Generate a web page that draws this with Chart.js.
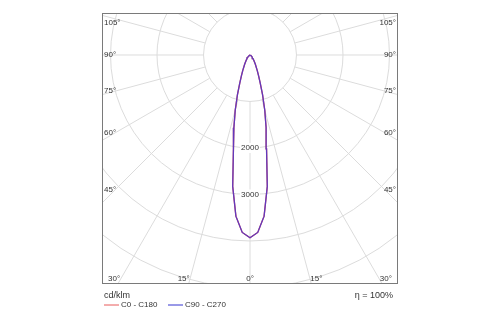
<!DOCTYPE html>
<html>
<head>
<meta charset="utf-8">
<script src="https://cdn.jsdelivr.net/npm/chart.js@4.4.0/dist/chart.umd.min.js"></script>
<style>
  html, body { margin: 0; padding: 0; background: #fff; }
  #wrap { width: 500px; height: 325px; }
</style>
</head>
<body>
<div id="wrap"><canvas id="ldc" width="500" height="325"></canvas></div>
<script>
// Intensity distribution (cd/klm) against angle from nadir, symmetric on both halves
const gammaAngles = [0, 2.5, 5, 7.5, 10, 12.5, 15, 17.5, 20, 22.5, 25, 30, 35, 40, 45, 50, 60, 70, 80, 90];
const c0c180 = [3930, 3820, 3480, 2850, 2050, 1600, 1225, 900, 640, 480, 370, 230, 150, 100, 70, 45, 20, 8, 2, 0];
const c90c270 = [3930, 3820, 3480, 2850, 2050, 1600, 1225, 900, 640, 480, 370, 230, 150, 100, 70, 45, 20, 8, 2, 0];
const seriesNames = ['C0 - C180', 'C90 - C270'];

const ringValues = [1000, 2000, 3000, 4000, 5000, 6000];
const ringLabels = ['2000', '3000'];
const sideLabels = ['105°', '90°', '75°', '60°', '45°'];
const sideAngles = [105, 90, 75, 60, 45];
const bottomLabels = ['30°', '15°', '0°', '15°', '30°'];
const bottomAngles = [-30, -15, 0, 15, 30];
const unitLabel = 'cd/klm';
const efficiencyLabel = 'η = 100%';

// turn (angle, intensity) into x/y in cd/klm, going round from one side to the other
function toPoints(values) {
  const pts = [];
  for (let i = gammaAngles.length - 1; i >= 0; i--) {
    const a = -gammaAngles[i] * Math.PI / 180;
    pts.push({ x: values[i] * Math.sin(a), y: -values[i] * Math.cos(a) });
  }
  for (let i = 1; i < gammaAngles.length; i++) {
    const a = gammaAngles[i] * Math.PI / 180;
    pts.push({ x: values[i] * Math.sin(a), y: -values[i] * Math.cos(a) });
  }
  return pts;
}

const FONT = '"Liberation Sans", Arial, sans-serif';

const polarGrid = {
  id: 'polarGrid',
  beforeDatasetsDraw(chart) {
    const { ctx, chartArea: ca, scales: { x, y } } = chart;
    const cx = x.getPixelForValue(0);
    const cy = y.getPixelForValue(0);
    const k = (x.getPixelForValue(1000) - cx) / 1000;

    ctx.save();
    ctx.fillStyle = '#fff';
    ctx.fillRect(ca.left, ca.top, ca.right - ca.left, ca.bottom - ca.top);
    ctx.beginPath();
    ctx.rect(ca.left, ca.top, ca.right - ca.left, ca.bottom - ca.top);
    ctx.clip();

    ctx.strokeStyle = '#dcdcdc';
    ctx.lineWidth = 1;
    ringValues.forEach(v => {
      ctx.beginPath();
      ctx.arc(cx, cy, v * k, 0, Math.PI * 2);
      ctx.stroke();
    });
    const r0 = ringValues[0] * k;
    for (let a = 0; a < 360; a += 15) {
      const t = a * Math.PI / 180;
      ctx.beginPath();
      ctx.moveTo(cx + r0 * Math.sin(t), cy + r0 * Math.cos(t));
      ctx.lineTo(cx + 600 * Math.sin(t), cy + 600 * Math.cos(t));
      ctx.stroke();
    }

    // ring values on the downward axis
    ctx.font = '8px ' + FONT;
    ctx.textAlign = 'center';
    ctx.textBaseline = 'middle';
    ringLabels.forEach(lbl => {
      const py = cy + Number(lbl) * k;
      const w = ctx.measureText(lbl).width;
      ctx.fillStyle = '#fff';
      ctx.fillRect(cx - w / 2 - 1, py - 5, w + 2, 10);
      ctx.fillStyle = '#333';
      ctx.fillText(lbl, cx, py);
    });
    ctx.restore();

    ctx.save();
    ctx.strokeStyle = '#7a7a7a';
    ctx.lineWidth = 1;
    ctx.strokeRect(ca.left + 0.5, ca.top + 0.5, ca.right - ca.left - 1, ca.bottom - ca.top - 1);

    ctx.font = '8px ' + FONT;
    ctx.fillStyle = '#333';
    ctx.textBaseline = 'middle';
    const inset = 13;
    sideLabels.forEach((lbl, i) => {
      const t = sideAngles[i] * Math.PI / 180;
      let py = cy + (cx - ca.left - inset) / Math.tan(t);
      py = Math.max(py, ca.top + 10);
      ctx.textAlign = 'left';
      ctx.fillText(lbl, ca.left + 2, py);
      ctx.textAlign = 'right';
      ctx.fillText(lbl, ca.right - 2, py);
    });
    bottomLabels.forEach((lbl, i) => {
      const t = bottomAngles[i] * Math.PI / 180;
      const off = (ca.bottom - 4 - cy) * Math.tan(t);
      ctx.textAlign = 'center';
      ctx.fillText(lbl, cx + off + Math.sign(off) * 6, ca.bottom - 5);
    });
    ctx.restore();
  },
  afterDraw(chart) {
    const { ctx, chartArea: ca } = chart;
    ctx.save();
    ctx.fillStyle = '#333';
    ctx.font = '9px ' + FONT;
    ctx.textBaseline = 'middle';
    ctx.textAlign = 'left';
    ctx.fillText(unitLabel, ca.left + 2, ca.bottom + 12);
    ctx.textAlign = 'right';
    ctx.fillText(efficiencyLabel, ca.right - 5, ca.bottom + 12);

    ctx.font = '8px ' + FONT;
    ctx.textAlign = 'left';
    let lx = ca.left + 2;
    chart.data.datasets.forEach(ds => {
      ctx.strokeStyle = ds.legendColor;
      ctx.lineWidth = 1;
      ctx.beginPath();
      ctx.moveTo(lx, ca.bottom + 21);
      ctx.lineTo(lx + 15, ca.bottom + 21);
      ctx.stroke();
      ctx.fillText(ds.label, lx + 17, ca.bottom + 21);
      lx += 64;
    });
    ctx.restore();
  }
};

new Chart(document.getElementById('ldc'), {
  type: 'scatter',
  data: {
    datasets: [
      {
        label: seriesNames[0],
        data: toPoints(c0c180),
        showLine: true,
        borderColor: 'rgb(225, 45, 45)',
        legendColor: '#e85a5a',
        borderWidth: 1.3,
        pointRadius: 0,
        tension: 0,
        order: 2
      },
      {
        label: seriesNames[1],
        data: toPoints(c90c270),
        showLine: true,
        borderColor: 'rgba(60, 60, 230, 0.78)',
        legendColor: '#3535d0',
        borderWidth: 1.3,
        pointRadius: 0,
        tension: 0,
        order: 1
      }
    ]
  },
  options: {
    responsive: false,
    animation: false,
    layout: { padding: { left: 102, right: 102, top: 13, bottom: 41 } },
    plugins: { legend: { display: false }, tooltip: { enabled: false } },
    scales: {
      x: { type: 'linear', display: false, min: -3183, max: 3183 },
      y: { type: 'linear', display: false, min: -4925, max: 903 }
    }
  },
  plugins: [polarGrid]
});
</script>
</body>
</html>
